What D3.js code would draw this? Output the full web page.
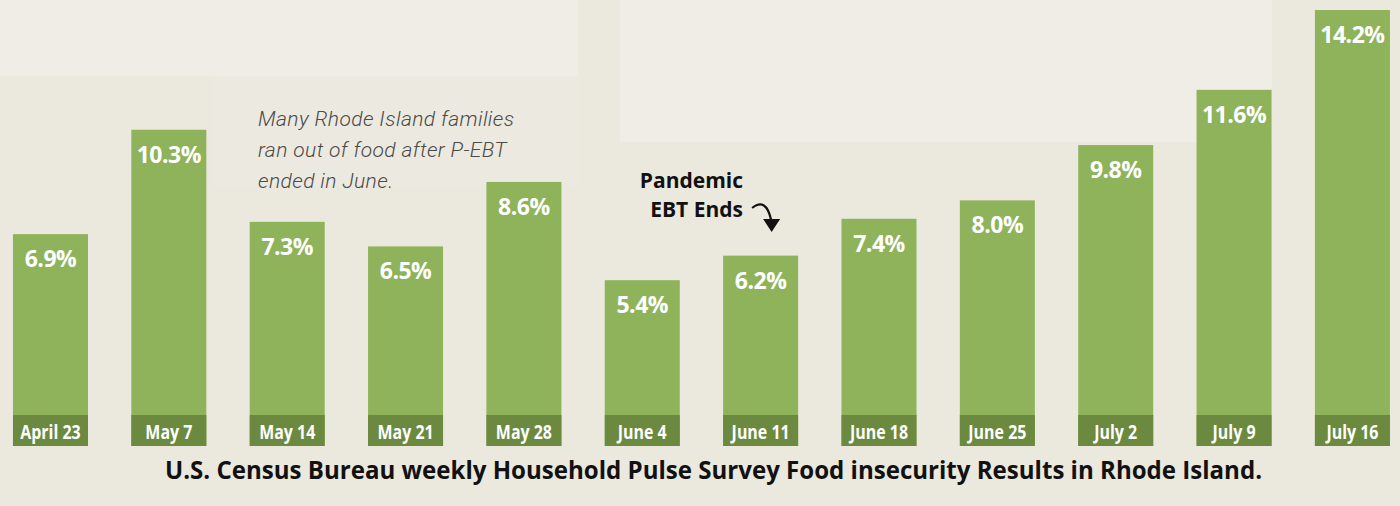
<!DOCTYPE html>
<html><head><meta charset="utf-8">
<script src="https://cdn.jsdelivr.net/npm/d3@7/dist/d3.min.js"></script>
<style>html,body{margin:0;padding:0;background:#ebe8de;}svg{display:block;}</style>
</head><body>
<svg id="chart" width="1400" height="506"></svg>
<script>
const categories = ["April 23","May 7","May 14","May 21","May 28","June 4","June 11","June 18","June 25","July 2","July 9","July 16"];
const values = [6.9,10.3,7.3,6.5,8.6,5.4,6.2,7.4,8.0,9.8,11.6,14.2];
const valueLabels = ["6.9%","10.3%","7.3%","6.5%","8.6%","5.4%","6.2%","7.4%","8.0%","9.8%","11.6%","14.2%"];
const noteLines = ["Many Rhode Island families","ran out of food after P-EBT","ended in June."];
const calloutLines = ["Pandemic","EBT Ends"];
const title = "U.S. Census Bureau weekly Household Pulse Survey Food insecurity Results in Rhode Island.";

const svg = d3.select("#chart");
const W = 1400, H = 506;

// background with subtle lighter patches
svg.append("rect").attr("width",W).attr("height",H).attr("fill","#ebe8de");
const patches = [[0,0,578,76],[214,76,364,110],[620,0,652,142]];
svg.selectAll("rect.patch").data(patches).join("rect").attr("class","patch")
  .attr("x",d=>d[0]).attr("y",d=>d[1]).attr("width",d=>d[2]).attr("height",d=>d[3])
  .attr("fill",(d,i)=>i===1?"#ecE9e0":"#efede5");

const pin = 0.3663;
const x = d3.scaleBand().domain(categories).range([-8.7, 1411.6]).paddingInner(pin).paddingOuter(pin/2);
const y = d3.scaleLinear().domain([0,14.2]).range([446,10]);
const bandTop = 415;

const g = svg.append("g");
g.selectAll("rect.bar").data(values).join("rect").attr("class","bar")
  .attr("x",(d,i)=>x(categories[i])).attr("width",x.bandwidth())
  .attr("y",d=>y(d)).attr("height",d=>y(0)-y(d))
  .attr("fill","#8eb35a");
g.selectAll("rect.band").data(categories).join("rect").attr("class","band")
  .attr("x",d=>x(d)).attr("width",x.bandwidth())
  .attr("y",bandTop).attr("height",y(0)-bandTop)
  .attr("fill","#6b893f");

g.selectAll("text.val").data(values).join("text").attr("class","val")
  .attr("x",(d,i)=>x(categories[i])+x.bandwidth()/2)
  .attr("y",d=>y(d)+33)
  .attr("text-anchor","middle")
  .attr("fill","#ffffff")
  .attr("font-family","'Open Sans', sans-serif").attr("font-weight",700).attr("font-size",23)
  .attr("letter-spacing",-0.5)
  .text((d,i)=>valueLabels[i]);

g.selectAll("text.cat").data(categories).join("text").attr("class","cat")
  .attr("transform",d=>`translate(${x(d)+x.bandwidth()/2},439) scale(0.84,1)`)
  .attr("text-anchor","middle")
  .attr("fill","#ffffff")
  .attr("font-family","'Open Sans', sans-serif")
  .attr("font-weight",700).attr("font-size",19)
  .text(d=>d);

// italic note
svg.append("g").selectAll("text").data(noteLines).join("text")
  .attr("x",258).attr("y",(d,i)=>126+i*31)
  .attr("fill","#4a4a48")
  .attr("font-family","Roboto, 'Liberation Sans', sans-serif")
  .attr("font-style","italic").attr("font-weight",300).attr("font-size",21)
  .attr("letter-spacing",0.4)
  .text(d=>d);

// callout
svg.append("g").selectAll("text").data(calloutLines).join("text")
  .attr("x",743).attr("y",(d,i)=>188+i*29)
  .attr("text-anchor","end")
  .attr("fill","#111")
  .attr("font-family","'Open Sans', sans-serif").attr("font-weight",700).attr("font-size",21)
  .text(d=>d);

const ax = x("June 11") + x.bandwidth()*0.64;
svg.append("path")
  .attr("d",`M${ax-19},208 Q${ax-5},197 ${ax},220`)
  .attr("fill","none").attr("stroke","#111").attr("stroke-width",2.2);
svg.append("path")
  .attr("d",`M${ax-8},219 L${ax+9},219 L${ax+0.5},232 Z`)
  .attr("fill","#111");

// title
svg.append("text")
  .attr("transform","translate(165,479) scale(0.8,1)")
  .attr("fill","#111")
  .attr("font-family","'Open Sans', sans-serif")
  .attr("font-weight",700).attr("font-size",25)
  .attr("textLength",1097/0.8).attr("lengthAdjust","spacingAndGlyphs")
  .text(title);
</script>
</body></html>
